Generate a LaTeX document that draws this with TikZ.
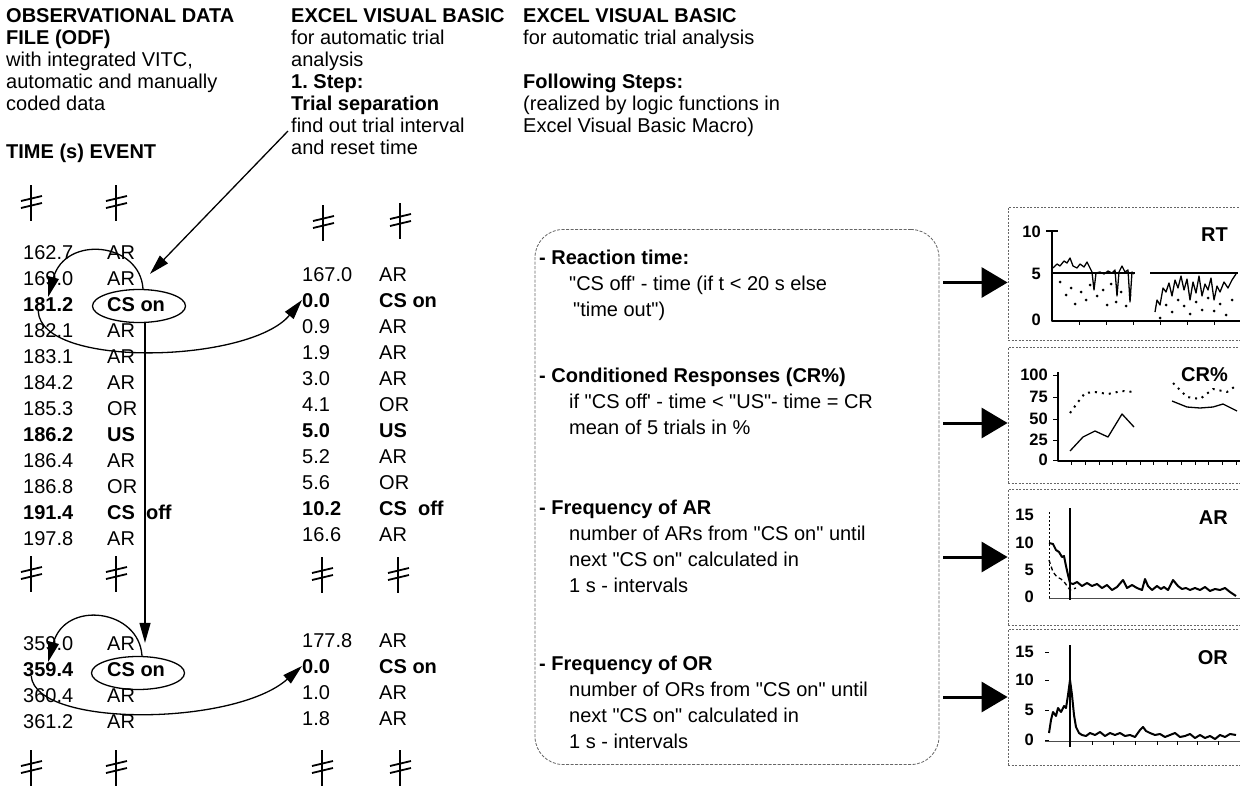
\documentclass[tikz,border=0pt]{standalone}
\usepackage{fontspec}
\setmainfont{Liberation Sans}[Ligatures=TeXOff]
\usetikzlibrary{arrows.meta,shapes.geometric,positioning}
\frenchspacing

\tikzset{
  cell/.style = {anchor=west, inner sep=0pt, text height=14pt, text depth=0pt},
  head/.style = {anchor=north west, inner sep=0pt, align=left},
  item/.style = {anchor=north west, inner sep=0pt, align=left, font=\fontsize{20}{26}\selectfont},
  oval/.style = {draw, ellipse, line width=1.3pt, minimum width=93pt, minimum height=33pt, inner sep=0pt},
  arr/.style = {-{Triangle[length=20pt,width=11pt]}, line width=1.3pt},
  bigarr/.style = {-{Triangle[length=26pt,width=30pt]}, line width=3pt, shorten <=4pt},
  rbox/.style = {draw=black!60, dash pattern=on 3pt off 1.5pt, line width=0.8pt, rounded corners=28pt},
  chartbox/.style = {draw=black!60, dash pattern=on 2pt off 1.5pt, line width=0.8pt, minimum width=250pt},
  ticklbl/.style = {anchor=east, inner sep=0pt, font=\fontsize{16.5}{16.5}\selectfont\bfseries},
  charttitle/.style = {anchor=east, inner sep=0pt, font=\fontsize{20}{20}\selectfont\bfseries},
  brk/.pic = {
    \draw[line width=2pt] (0,-18) -- (0,18);
    \draw[line width=1.8pt] (-10,-2) -- (11,-7) (-10,5) -- (11,0);
  }
}

\begin{document}
\begin{tikzpicture}[x=1pt, y=-1pt, font=\fontsize{20}{22}\selectfont, line join=round]
\fill[white] (0,0) rectangle (1240,788);
\useasboundingbox (0,0) rectangle (1240,788);

% headings
\node[head] (odf) at (6,8) {\textbf{OBSERVATIONAL DATA}\\ \textbf{FILE (ODF)}\\ with integrated VITC,\\ automatic and manually\\ coded data};
\node[head] (vba) at (291,8) {\textbf{EXCEL VISUAL BASIC}\\ for automatic trial\\ analysis\\ \textbf{1. Step:}\\ \textbf{Trial separation}\\ find out trial interval\\ and reset time};
\node[head] (vbb) at (523,8) {\textbf{EXCEL VISUAL BASIC}\\ for automatic trial analysis\\[22pt] \textbf{Following Steps:}\\ (realized by logic functions in\\ Excel Visual Basic Macro)};
\node[head] (cols) at (6,144) {\textbf{TIME (s) EVENT}};

% observational data file
\foreach \tm/\ev [count=\i] in {162.7/AR, 169.0/AR, \textbf{181.2}/\textbf{CS on}, 182.1/AR, 183.1/AR, 184.2/AR, 185.3/OR, \textbf{186.2}/\textbf{US}, 186.4/AR, 186.8/OR, \textbf{191.4}/\textbf{CS~~off}, 197.8/AR}{
  \node[cell] (t\i) at (23,{226+26*\i}) {\tm};
  \node[cell] (e\i) at (107,{226+26*\i}) {\ev};
}
\foreach \tm/\ev [count=\i] in {359.0/AR, \textbf{359.4}/\textbf{CS on}, 360.4/AR, 361.2/AR}{
  \node[cell] (tb\i) at (23,{617+26*\i}) {\tm};
  \node[cell] (eb\i) at (107,{617+26*\i}) {\ev};
}

% separated trials
\foreach \tm/\ev [count=\i] in {167.0/AR, \textbf{0.0}/\textbf{CS on}, 0.9/AR, 1.9/AR, 3.0/AR, 4.1/OR, \textbf{5.0}/\textbf{US}, 5.2/AR, 5.6/OR, \textbf{10.2}/\textbf{CS~~off}, 16.6/AR}{
  \node[cell] (r\i) at (302,{248+26*\i}) {\tm};
  \node[cell] (re\i) at (379,{248+26*\i}) {\ev};
}
\foreach \tm/\ev [count=\i] in {177.8/AR, \textbf{0.0}/\textbf{CS on}, 1.0/AR, 1.8/AR}{
  \node[cell] (rb\i) at (302,{614+26*\i}) {\tm};
  \node[cell] (reb\i) at (379,{614+26*\i}) {\ev};
}

% breaks
\foreach \x/\y in {31/203, 116/203, 31/574, 116/574, 31/768, 116/768, 323/223, 400/221, 322/575, 398/575, 322/768, 400/768}
  \pic at (\x,\y) {brk};

\node[oval] (ov1) at (139,306) {};
\node[oval] (ov2) at (138,673) {};

\coordinate (sepx) at (288,131);
\draw[arr] (sepx) -- ([xshift=11pt,yshift=15pt]ov1.north);
\draw[arr] ([xshift=4pt]ov1.north) .. controls +(-3,-47) and +(17,-62) .. (t3.north);
\draw[arr] ([xshift=-10pt]t3.south) .. controls +(3,58) and +(-52,63) .. (r2.west);
\draw[arr, shorten >=13pt] ([xshift=6pt]ov1.south) -- ([xshift=6pt]ov1.south |- ov2.north);
\draw[arr] ([xshift=4pt]ov2.north) .. controls +(-3,-47) and +(17,-62) .. (tb2.north);
\draw[arr] ([xshift=-17pt]tb2.south) .. controls +(5,52) and +(-67,60) .. (rb2.west);

% following steps
\node[rbox, minimum width=404pt, minimum height=535pt] (steps) at (737,497) {};
\node[item] (rt) at (539,250) {\textbf{- Reaction time:}\\ \hspace*{30pt}"CS off' - time (if t < 20 s else\\ \hspace*{34pt}"time out")};
\node[item] (cr) at (539,368) {\textbf{- Conditioned Responses (CR\%)}\\ \hspace*{30pt}if "CS off' - time < "US"- time = CR\\ \hspace*{30pt}mean of 5 trials in \%};
\node[item] (ar) at (539,500) {\textbf{- Frequency of AR}\\ \hspace*{30pt}number of ARs from "CS on" until\\ \hspace*{30pt}next "CS on" calculated in\\ \hspace*{30pt}1 s - intervals};
\node[item] (or) at (539,656) {\textbf{- Frequency of OR}\\ \hspace*{30pt}number of ORs from "CS on" until\\ \hspace*{30pt}next "CS on" calculated in\\ \hspace*{30pt}1 s - intervals};

% charts
\node[chartbox, minimum height=133pt] (rtc) at (1133,273.5) {};
\node[chartbox, minimum height=136pt] (crc) at (1133,415) {};
\node[chartbox, minimum height=136pt] (arc) at (1133,557) {};
\node[chartbox, minimum height=136pt] (orc) at (1133,697) {};

\draw[bigarr, transform canvas={yshift=-9pt}] (steps.east |- rtc.west) -- (rtc.west);
\draw[bigarr, transform canvas={yshift=-8pt}] (steps.east |- crc.west) -- (crc.west);
\draw[bigarr] (steps.east |- arc.west) -- (arc.west);
\draw[bigarr] (steps.east |- orc.west) -- (orc.west);

% RT
\node[charttitle] (rtt) at (1228,235) {RT};
\node[ticklbl] (rt10) at (1041,232) {10};
\node[ticklbl] (rt5) at (1041,274) {5};
\node[ticklbl] (rt0) at (1041,320) {0};
\draw[line width=1.5pt] (1046,231) -- (1058,231) (1052,231) -- (1052,321) -- (1240,321);
\foreach \x in {1079,1106,1133,1160,1187,1214} \draw[line width=1pt] (\x,321) -- (\x,325);
\draw[line width=2pt] (1052,273) -- (1135,273) (1150,273) -- (1238,273);
\draw[line width=1.3pt] plot coordinates {(1053,268) (1057,264) (1060,266) (1064,261) (1067,263) (1070,258) (1073,266) (1077,268) (1080,264) (1084,267) (1087,262) (1090,268) (1092,272) (1094,290) (1096,273) (1100,272) (1104,274) (1108,271) (1112,273) (1115,270) (1117,296) (1119,272) (1122,266) (1125,272) (1128,270) (1130,302) (1132,272) (1134,274)};
\draw[line width=1.3pt] plot coordinates {(1155,312) (1157,300) (1160,305) (1163,288) (1166,292) (1169,283) (1172,296) (1175,280) (1178,288) (1181,276) (1184,290) (1187,279) (1190,300) (1193,282) (1196,293) (1199,276) (1202,296) (1205,284) (1208,290) (1211,278) (1214,300) (1217,286) (1220,292) (1224,282) (1228,288) (1232,280) (1236,274)};
\foreach \x/\y in {1060/282, 1066/295, 1071/288, 1075/304, 1081/292, 1086/300, 1090/285, 1097/296, 1103/290, 1107/305, 1111/284, 1116/302, 1121/292, 1126/306, 1130/295, 1160/318, 1166/305, 1172/312, 1178/300, 1184/306, 1190/314, 1196/302, 1202/310, 1208/298, 1214/311, 1220/304, 1226/315, 1232/300}
  \fill (\x,\y) circle (1.5);

% CR%
\node[charttitle] (crt) at (1228,375) {CR\%};
\foreach \v/\y in {100/375, 75/397, 50/419, 25/440, 0/460}{
  \node[ticklbl] (cr\v) at (1048,\y) {\v};
  \draw[line width=1pt] (1053,\y) -- (1058,\y);
}
\draw[line width=1.5pt] (1058,372) -- (1058,461) -- (1240,461);
\foreach \i in {1,...,13} \draw[line width=1pt] ({1058+13.7*\i},461) -- ({1058+13.7*\i},465);
\draw[line width=1.3pt] plot coordinates {(1070,451) (1083,437) (1095,431) (1108,437) (1122,414) (1134,427)};
\draw[line width=1.3pt] plot coordinates {(1172,401) (1187,407) (1200,408) (1213,407) (1223,404) (1237,411)};
\draw[line width=2pt, dash pattern=on 2pt off 5pt] plot coordinates {(1070,413) (1078,402) (1085,393) (1095,392) (1108,394) (1122,391) (1134,392)};
\draw[line width=2pt, dash pattern=on 2pt off 5pt] plot coordinates {(1173,383) (1187,397) (1200,399) (1213,389) (1227,392) (1237,385)};

% AR
\node[charttitle] (art) at (1228,518) {AR};
\foreach \v/\y in {15/515, 10/543, 5/570, 0/597}
  \node[ticklbl] (ar\v) at (1034,\y) {\v};
\draw[dash pattern=on 2pt off 2pt, line width=0.8pt] (1049,512) -- (1049,598);
\draw[line width=0.8pt, black!70] (1049,598) -- (1240,598);
\draw[line width=1.5pt] (1070,508) -- (1070,600);
\draw[line width=2pt] plot coordinates {(1049,543) (1053,544) (1056,550) (1059,552) (1062,557) (1064,556) (1066,566) (1068,575) (1070,583) (1073,584) (1077,582) (1082,586) (1087,583) (1092,586) (1097,584) (1102,588) (1107,585) (1112,590) (1117,587) (1123,580) (1127,588) (1132,585) (1137,588) (1142,590) (1145,579) (1148,586) (1152,590) (1157,586) (1161,589) (1164,587) (1168,590) (1173,580) (1178,586) (1182,589) (1186,588) (1190,590) (1195,588) (1200,590) (1205,587) (1210,591) (1215,589) (1220,590) (1225,588) (1230,592) (1236,596)};
\draw[line width=1.3pt, dash pattern=on 4pt off 3pt] plot coordinates {(1049,560) (1053,572) (1057,577) (1061,579) (1065,583) (1070,590) (1076,588)};

% OR
\node[charttitle] (ort) at (1228,658) {OR};
\foreach \v/\y in {15/652, 10/680, 5/710, 0/740}{
  \node[ticklbl] (or\v) at (1034,\y) {\v};
  \draw[line width=0.8pt] (1045,\y) -- (1049,\y);
}
\draw[line width=0.8pt, black!70] (1045,741) -- (1240,741);
\foreach \x in {1092,1113,1135,1157,1177,1197,1218} \draw[line width=0.8pt] (\x,741) -- (\x,745);
\draw[line width=1.5pt] (1070,645) -- (1070,747);
\draw[line width=2pt] plot coordinates {(1049,733) (1051,720) (1053,712) (1056,716) (1058,708) (1061,712) (1064,706) (1066,708) (1068,695) (1070,680) (1072,695) (1074,715) (1076,727) (1079,733) (1082,735) (1086,736) (1090,733) (1095,735) (1100,732) (1105,736) (1110,733) (1115,735) (1120,733) (1125,736) (1130,735) (1135,737) (1140,730) (1143,727) (1146,731) (1150,733) (1155,735) (1160,734) (1165,737) (1170,735) (1175,733) (1180,737) (1185,736) (1190,734) (1195,738) (1200,735) (1205,738) (1210,736) (1215,739) (1220,735) (1225,737) (1230,734) (1236,735)};
\end{tikzpicture}
\end{document}
